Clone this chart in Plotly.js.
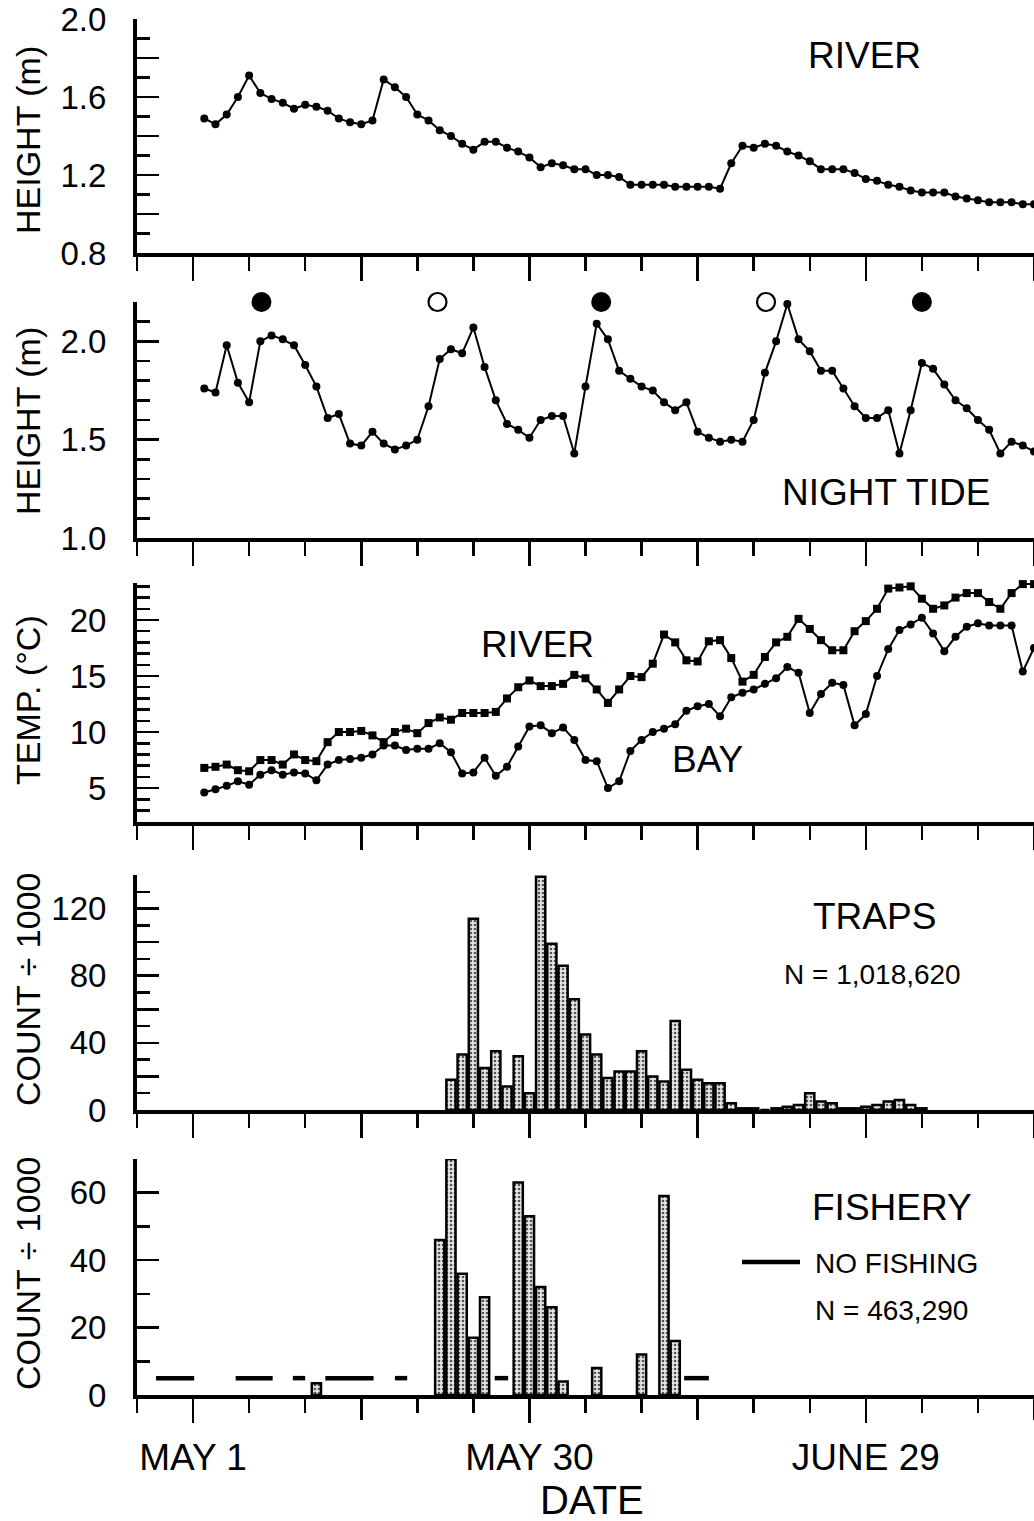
<!DOCTYPE html>
<html><head><meta charset="utf-8">
<script src="https://cdn.plot.ly/plotly-3.0.1.min.js"></script>
<style>html,body{margin:0;padding:0;background:#fff}#chart{width:1034px;height:1521px}</style>
</head><body><div id="chart"></div>
<script>
// ---------------- DATA (day of year; May 30 = day 150) ----------------
const firstDay = 121;
const riverHeight = [1.49,1.46,1.51,1.60,1.71,1.62,1.59,1.57,1.54,1.56,
  1.55,1.53,1.49,1.47,1.46,1.48,1.69,1.65,1.60,1.51,
  1.48,1.43,1.40,1.36,1.33,1.37,1.37,1.34,1.32,1.29,
  1.24,1.26,1.25,1.23,1.23,1.20,1.20,1.19,1.15,1.15,
  1.15,1.15,1.14,1.14,1.14,1.14,1.13,1.26,1.35,1.34,
  1.36,1.35,1.32,1.30,1.27,1.23,1.23,1.23,1.21,1.18,
  1.17,1.15,1.14,1.12,1.11,1.11,1.11,1.09,1.08,1.07,
  1.06,1.06,1.06,1.05,1.05];
const nightTide = [1.76,1.74,1.98,1.79,1.69,2.00,2.03,2.01,1.98,1.88,
  1.77,1.61,1.63,1.48,1.47,1.54,1.48,1.45,1.47,1.50,
  1.67,1.91,1.96,1.94,2.07,1.87,1.70,1.58,1.55,1.51,
  1.60,1.62,1.62,1.43,1.77,2.09,2.01,1.85,1.81,1.77,
  1.75,1.69,1.65,1.69,1.54,1.51,1.49,1.50,1.49,1.60,
  1.84,2.00,2.19,2.01,1.95,1.85,1.85,1.76,1.67,1.61,
  1.61,1.65,1.43,1.65,1.89,1.86,1.78,1.70,1.66,1.60,
  1.55,1.43,1.49,1.47,1.44];
const fullMoonDays = [126.1, 156.4, 185.0];
const newMoonDays = [141.8, 171.1];
const moonMarkerLevel = 2.2;
const tempRiver = [6.8,6.9,7.1,6.6,6.5,7.5,7.5,7.1,8.0,7.5,
  7.4,9.1,10.0,10.0,10.1,9.7,9.1,10.0,10.3,9.9,
  10.8,11.3,11.1,11.7,11.7,11.7,11.8,13.0,14.0,14.6,
  14.1,14.1,14.3,15.1,14.8,13.8,12.6,13.8,15.0,14.9,
  16.1,18.7,18.0,16.4,16.3,18.1,18.2,16.6,14.5,15.1,
  16.7,18.0,18.5,20.1,19.2,18.2,17.3,17.3,19.0,19.9,
  21.0,22.8,22.9,23.0,21.9,21.0,21.3,22.0,22.4,22.4,
  21.6,21.0,22.4,23.2,23.2];
const tempBay = [4.6,4.9,5.2,5.6,5.3,6.2,6.6,6.2,6.4,6.3,
  5.7,7.1,7.5,7.6,7.7,8.0,8.8,8.8,8.4,8.5,
  8.5,9.0,8.2,6.3,6.4,7.7,6.1,6.9,8.7,10.5,
  10.6,9.9,10.4,9.3,7.5,7.4,5.0,5.6,8.3,9.3,
  10.0,10.3,10.7,11.9,12.3,12.5,11.4,13.1,13.5,13.8,
  14.3,14.8,15.8,15.3,11.7,13.4,14.4,14.2,10.6,11.6,
  15.0,17.4,19.1,19.6,20.2,18.8,17.2,18.5,19.4,19.7,
  19.5,19.5,19.5,15.4,17.5];
const trapsFirstDay = 143;
const trapsCount = [18,33,114,25,35,14,32,10,139,99,
  86,66,45,33,19,23,23,35,20,17,
  53,24,18,16,16,4,1,1,0,1,
  2,3,10,5,4,1,1,2,3,5,
  6,3,1];
const fisheryDays = [131,142,143,144,145,146,149,150,151,152,153,156,160,162,163];
const fisheryCount = [3.5,46,70,36,17,29,63,53,32,26,4,8,12,59,16];
const noFishStart = [116.7,123.8,128.9,131.8,138.0,146.9,163.8];
const noFishEnd   = [120.1,127.1,130.0,136.1,139.1,148.1,166.0];
const noFishLevel = 5;
const dateMajorTicks = [120,135,150,165,180,195];
const dateLabelVals = [120,150,180];
const dateLabelText = ['MAY 1','MAY 30','JUNE 29'];
const dateUnlabeledMajor = [135,165,195];

// ---------------- LAYOUT HELPERS (pixels) ----------------
const W = 1034, H = 1521;
const L = 137, R = 1034, T = 19, B = 1395;
const pxX = p => (p - L) / (R - L);
const pxY = p => (B - p) / (B - T);
const dom = (top, bot) => [Math.max(0, pxY(bot)), Math.min(1, pxY(top))];
const FONT = 'Liberation Sans, Arial, Helvetica, sans-serif';
const days = arr => arr.map((_, i) => firstDay + i);
const XR = [115, 195];

const lineStyle = {color: '#000', width: 2};
const dot = {symbol: 'circle', size: 8, color: '#000'};
const barMarker = {color: '#d8d8d8', line: {color: '#000', width: 2.5},
  pattern: {shape: '.', fgcolor: '#555', bgcolor: '#e6e6e6', size: 4, solidity: 0.35}};

const traces = [
  {x: days(riverHeight), y: riverHeight, xaxis: 'x', yaxis: 'y', mode: 'lines+markers',
   line: lineStyle, marker: dot, cliponaxis: false},
  {x: days(nightTide), y: nightTide, xaxis: 'x2', yaxis: 'y2', mode: 'lines+markers',
   line: lineStyle, marker: dot, cliponaxis: false},
  {x: fullMoonDays, y: fullMoonDays.map(() => moonMarkerLevel), xaxis: 'x2', yaxis: 'y2', mode: 'markers',
   marker: {symbol: 'circle', size: 20, color: '#000'}, cliponaxis: false},
  {x: newMoonDays, y: newMoonDays.map(() => moonMarkerLevel), xaxis: 'x2', yaxis: 'y2', mode: 'markers',
   marker: {symbol: 'circle-open', size: 18, color: '#000', line: {width: 2.2, color: '#000'}}, cliponaxis: false},
  {x: days(tempRiver), y: tempRiver, xaxis: 'x3', yaxis: 'y3', mode: 'lines+markers',
   line: lineStyle, marker: {symbol: 'square', size: 8, color: '#000'}, cliponaxis: false},
  {x: days(tempBay), y: tempBay, xaxis: 'x3', yaxis: 'y3', mode: 'lines+markers',
   line: lineStyle, marker: dot, cliponaxis: false},
  {type: 'bar', x: trapsCount.map((_, i) => trapsFirstDay + i), y: trapsCount, xaxis: 'x4', yaxis: 'y4',
   width: 0.82, marker: barMarker},
  {type: 'bar', x: fisheryDays, y: fisheryCount, xaxis: 'x5', yaxis: 'y5',
   width: 0.82, marker: barMarker}
];
// no-fishing periods as separated segments
const nfx = [], nfy = [];
noFishStart.forEach((s, i) => { nfx.push(s, noFishEnd[i], null); nfy.push(noFishLevel, noFishLevel, null); });
traces.push({x: nfx, y: nfy, xaxis: 'x5', yaxis: 'y5', mode: 'lines',
  line: {color: '#000', width: 4.5}, connectgaps: false, cliponaxis: false});
// empty traces so the overlay tick axes are instantiated
traces.push({x: [], y: [], xaxis: 'x6', yaxis: 'y5', mode: 'markers', hoverinfo: 'skip'});
traces.push({x: [], y: [], xaxis: 'x', yaxis: 'y6', mode: 'markers', hoverinfo: 'skip'});
traces.push({x: [], y: [], xaxis: 'x4', yaxis: 'y7', mode: 'markers', hoverinfo: 'skip'});

const TICK = {tickwidth: 2.5, tickcolor: '#000'};
const xBase = (anchor, labels) => Object.assign({
  anchor: anchor, range: XR, showline: true, linewidth: 4, linecolor: '#000',
  showgrid: false, zeroline: false, ticks: 'outside', ticklen: 24,
  tickmode: 'array',
  tickvals: labels ? dateLabelVals : dateMajorTicks,
  ticktext: labels ? dateLabelText : undefined,
  showticklabels: labels,
  tickfont: {family: FONT, size: 37, color: '#000'}, ticklabelstandoff: 3,
  minor: Object.assign({ticks: 'outside', tickmode: 'linear', tick0: 120, dtick: 5, ticklen: 14, showgrid: false}, TICK),
  fixedrange: true
}, TICK);
const yBase = (anchor, domain, range, vals, minorD) => Object.assign({
  anchor: anchor, domain: domain, range: range, showline: true, linewidth: 4, linecolor: '#000',
  showgrid: false, zeroline: false, ticks: 'inside', ticklen: 22,
  tickmode: 'array', tickvals: vals, ticktext: vals.map(v => (range[1] <= 2.2) ? v.toFixed(1) : String(v)),
  tickfont: {family: FONT, size: 33, color: '#000'}, ticklabelstandoff: 20,
  minor: Object.assign({ticks: 'inside', tickmode: 'linear', tick0: 0, dtick: minorD, ticklen: 13, showgrid: false}, TICK),
  fixedrange: true
}, TICK);
const overlayY = (over, anchor, range, vals) => Object.assign({
  overlaying: over, anchor: anchor, side: 'left', range: range, showline: false, showgrid: false,
  zeroline: false, ticks: 'inside', ticklen: 22, tickmode: 'array', tickvals: vals,
  showticklabels: false, fixedrange: true
}, TICK);

const ann = (text, px, py, size, opts) => Object.assign({
  text: text, xref: 'paper', yref: 'paper', x: pxX(px), y: pxY(py),
  xanchor: 'center', yanchor: 'middle', showarrow: false,
  font: {family: FONT, size: size, color: '#000'}
}, opts || {});
const yTitle = (text, py) => ann(text, 28, py, 34, {textangle: -90});

const layout = {
  width: W, height: H, paper_bgcolor: '#fff', plot_bgcolor: 'rgba(0,0,0,0)',
  showlegend: false, bargap: 0,
  margin: {l: L, r: W - R, t: T, b: H - B, pad: 0},
  font: {family: FONT, color: '#000'},
  xaxis: xBase('y', false), xaxis2: xBase('y2', false), xaxis3: xBase('y3', false),
  xaxis4: xBase('y4', false), xaxis5: xBase('y5', true),
  xaxis6: Object.assign({overlaying: 'x5', anchor: 'y5', side: 'bottom', range: XR, showline: false,
    showgrid: false, zeroline: false, ticks: 'outside', ticklen: 24, tickmode: 'array',
    tickvals: dateUnlabeledMajor, showticklabels: false, fixedrange: true}, TICK),
  yaxis: yBase('x', dom(19, 253), [0.8, 2.0], [0.8,1.2,1.6,2.0], 0.1),
  yaxis6: overlayY('y', 'x', [0.8, 2.0], [1.0,1.4,1.8]),
  yaxis2: yBase('x2', dom(302, 538), [1.0, 2.2], [1.0,1.5,2.0], 0.1),
  yaxis3: yBase('x3', dom(583, 821.7), [2, 23.3], [5,10,15,20], 1),
  yaxis4: yBase('x4', dom(875, 1110), [0, 140], [0,40,80,120], 10),
  yaxis7: overlayY('y4', 'x4', [0, 140], [20,60,100,140]),
  yaxis5: yBase('x5', dom(1159, 1395), [0, 70], [0,20,40,60], 10),
  annotations: [
    ann('RIVER', 864, 56, 37),
    ann('NIGHT TIDE', 886, 493, 37),
    ann('RIVER', 537, 644, 37),
    ann('BAY', 707, 759, 37),
    ann('TRAPS', 874, 916, 37),
    ann('N = 1,018,620', 872, 974, 28),
    ann('FISHERY', 892, 1207, 37),
    ann('NO FISHING', 813, 1263, 28, {xanchor: 'left'}),
    ann('N = 463,290', 813, 1310, 28, {xanchor: 'left'}),
    ann('DATE', 592, 1500, 40),
    yTitle('HEIGHT (m)', 140),
    yTitle('HEIGHT (m)', 421),
    yTitle('TEMP. (°C)', 700),
    yTitle('COUNT ÷ 1000', 990),
    yTitle('COUNT ÷ 1000', 1274)
  ],
  shapes: [
    {type: 'line', xref: 'paper', yref: 'paper', x0: pxX(742), x1: pxX(800), y0: pxY(1262), y1: pxY(1262),
     line: {color: '#000', width: 4.5}}
  ]
};

Plotly.newPlot('chart', traces, layout, {displayModeBar: false, staticPlot: true});
</script></body></html>
